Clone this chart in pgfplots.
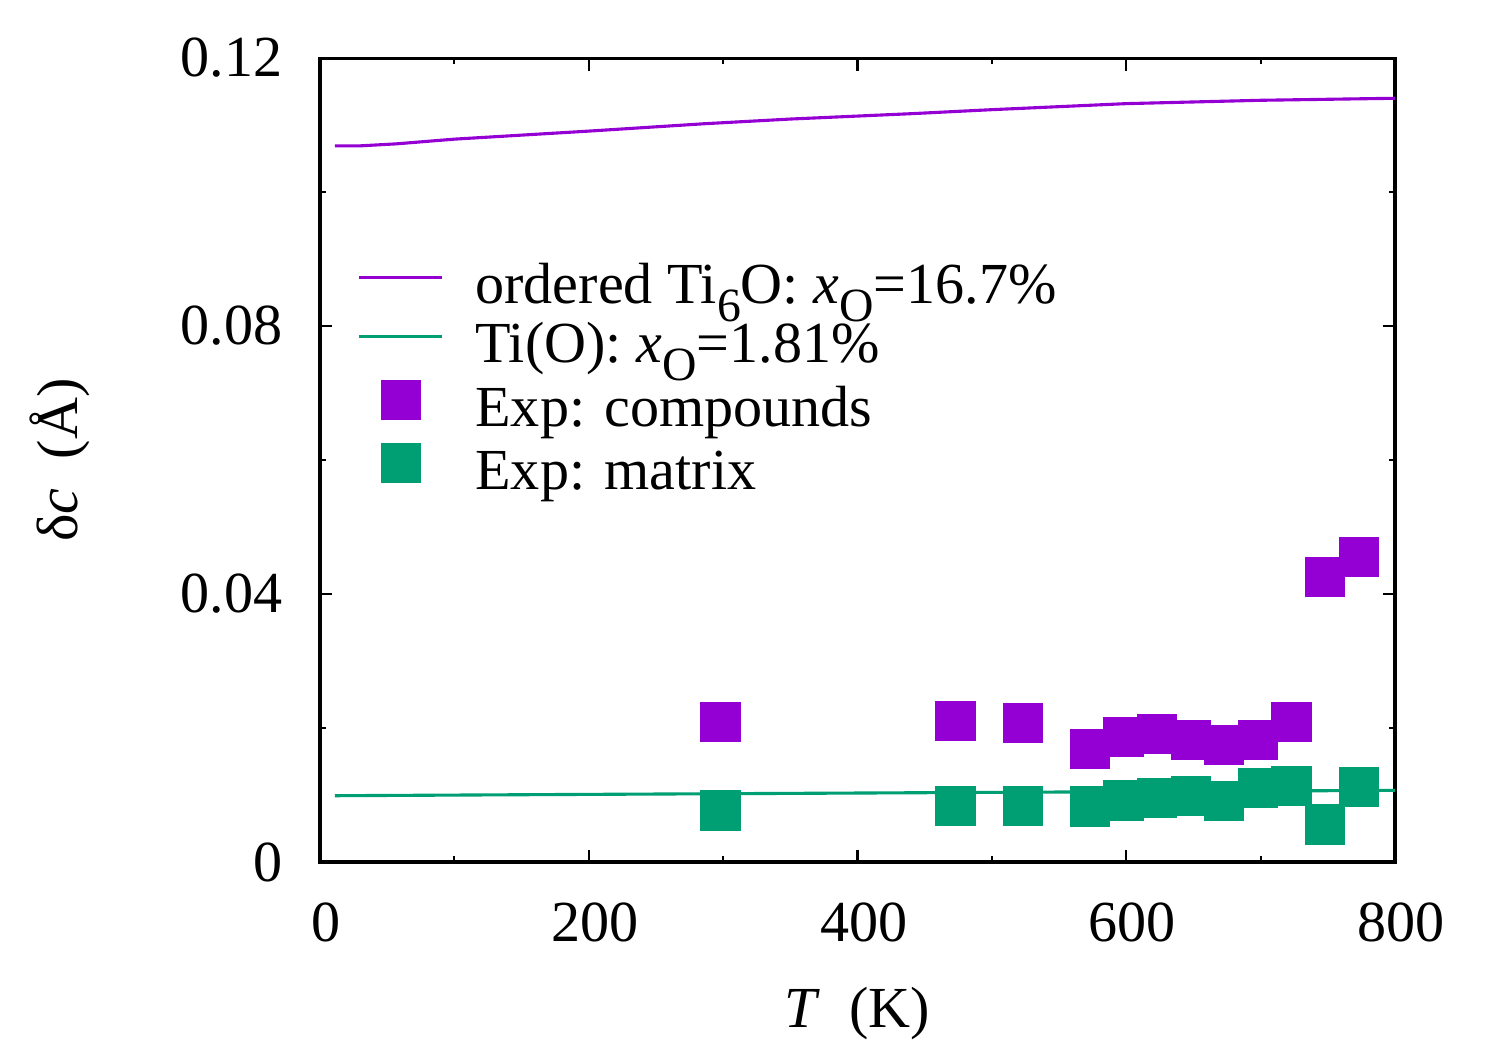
\documentclass[border=0pt]{standalone}
\usepackage{fontspec}
\setmainfont{Liberation Serif}
\usepackage{pgfplots}
\pgfplotsset{compat=1.18}
\definecolor{cViolet}{HTML}{9400D3}
\definecolor{cGreen}{HTML}{009E73}
\newcommand{\sub}[1]{\raisebox{-0.3em}{\fontsize{11.5}{12}\selectfont #1}}
\pgfplotsset{
  lineleg/.style={legend image code/.code={\draw[##1] (0pt,3.5pt) -- (20pt,3.5pt);}},
  markleg/.style={legend image code/.code={\path[draw=none] (0pt,3.5pt) -- (20pt,3.5pt);
      \path[##1, draw=none] plot[only marks] coordinates {(10pt,3.5pt)};}},
}

\begin{document}
\fontsize{14}{17}\selectfont
\begin{tikzpicture}
\begin{axis}[
  scale only axis, width=259.0pt, height=193.7pt,
  xmin=0, xmax=800, ymin=0, ymax=0.12,
  xtick={0,200,400,600,800}, ytick={0,0.04,0.08,0.12},
  yticklabels={0,0.04,0.08,0.12},
  minor x tick num=1, minor y tick num=1,
  tick align=inside, major tick length=3pt, minor tick length=1.5pt,
  axis line style={line width=0.75pt},
  every tick/.style={black, line width=0.5pt},
  tick label style={font=\fontsize{14}{17}\selectfont},
  /pgf/number format/assume math mode=true,
  xticklabel style={yshift=-5pt, xshift=1.5pt},
  yticklabel style={xshift=-4.2pt},
  xlabel={\textit{T}\ \ (K)}, ylabel={δ\textit{c}\ \ (Å)},
  label style={font=\fontsize{14}{17}\selectfont},
  xlabel style={at={(axis description cs:0.5,-0.188)}, anchor=center},
  ylabel style={at={(axis description cs:-0.242,0.5)}, anchor=center},
  legend style={draw=none, fill=none, at={(rel axis cs:0.0344,0.747)}, anchor=north west,
    inner sep=0pt, row sep=0pt, column sep=7.6pt,
    nodes={inner sep=0pt, text height=10pt, text depth=4.2pt, font=\fontsize{14}{17}\selectfont}},
  legend cell align=left,
  every axis plot/.append style={line width=0.75pt},
]
\coordinate (ll) at (rel axis cs:0,0);
\coordinate (ur) at (rel axis cs:1,1);
\addplot[cViolet, no marks, lineleg]
  coordinates {(11,0.1069)(30,0.1069)(57,0.1072)(100,0.1079)(200,0.1091)(286,0.1102)
    (350,0.1109)(440,0.1117)(500,0.1123)(600,0.1132)(700,0.1137)(800,0.1140)};
\addlegendentry{ordered Ti\sub{6}O: \textit{x}\sub{O}=16.7\%}
\addplot[cGreen, no marks, lineleg]
  coordinates {(11,0.0099)(200,0.0101)(400,0.0103)(600,0.0105)(800,0.0107)};
\addlegendentry{Ti(O): \textit{x}\sub{O}=1.81\%}
\addplot[only marks, mark=square*, mark size=4.72pt, color=cViolet, mark options={line width=0pt}, markleg]
  coordinates {(298,0.0209)(473,0.0210)(523,0.0208)(573,0.0169)(598,0.0187)(623,0.0191)
    (648,0.0182)(673,0.0175)(698,0.0182)(723,0.0209)(748,0.0425)(773,0.0455)};
\addlegendentry{Exp: compounds}
\addplot[only marks, mark=square*, mark size=4.72pt, color=cGreen, mark options={line width=0pt}, markleg]
  coordinates {(298,0.0077)(473,0.0084)(523,0.0084)(573,0.0083)(598,0.0092)(623,0.0096)
    (648,0.0099)(673,0.0091)(698,0.0111)(723,0.0113)(748,0.0056)(773,0.0112)};
\addlegendentry{Exp: matrix}
\end{axis}
\pgfresetboundingbox
\path[use as bounding box] ([shift={(-77.1pt,-45.3pt)}]ll) rectangle ([shift={(25.3pt,14.0pt)}]ur);
\end{tikzpicture}
\end{document}
